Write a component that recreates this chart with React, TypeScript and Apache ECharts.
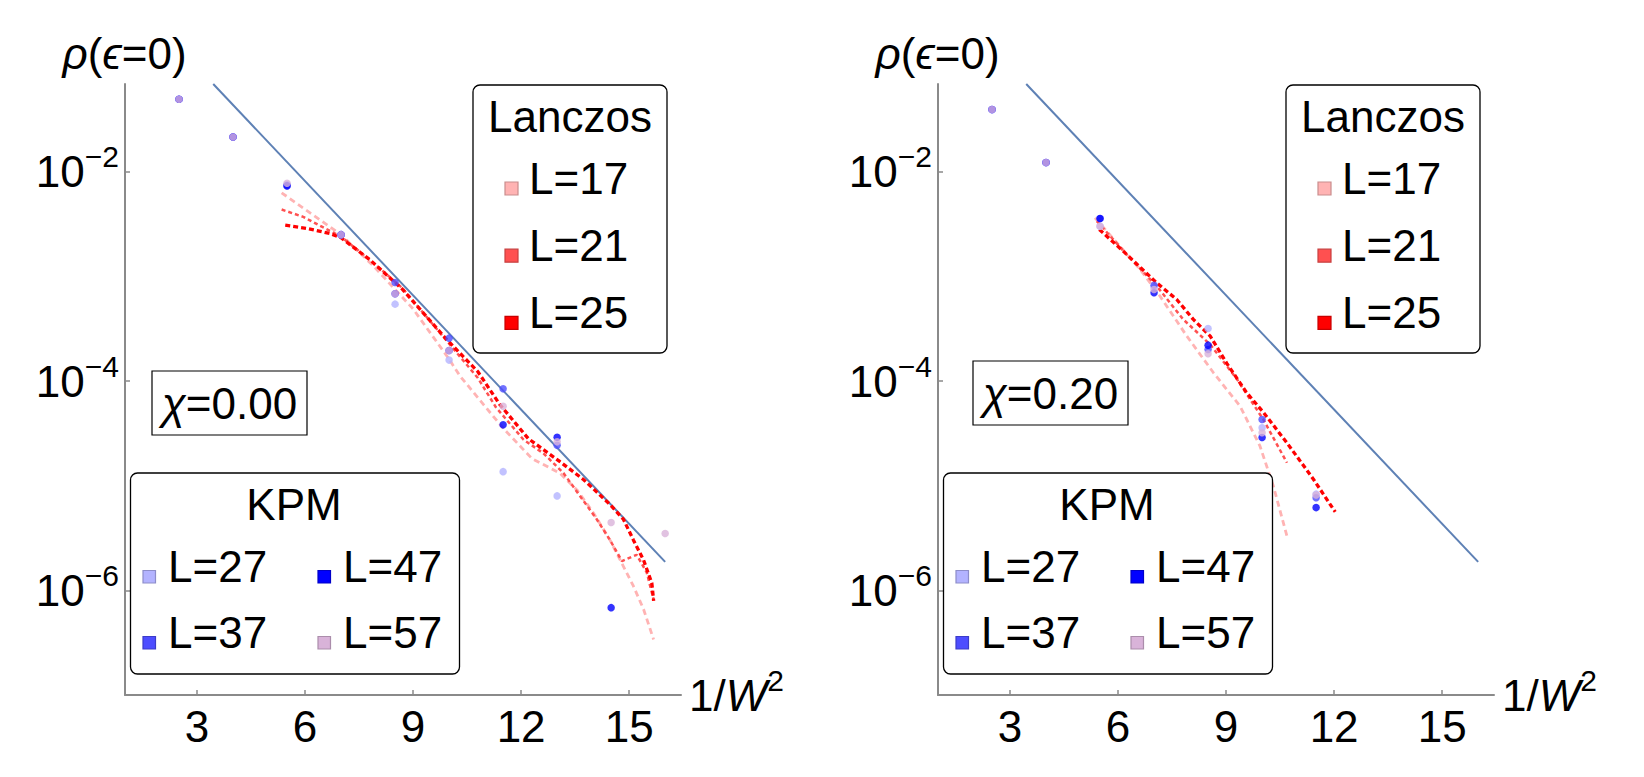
import React, { useEffect, useRef } from "react";
import * as echarts from "echarts";

// ---------- axes ----------
const xTickValues = [3, 6, 9, 12, 15];
const yTickExponents = [-6, -4, -2];
const panelChiLabels = ["0.00", "0.20"];

// ---------- reference line (log10 rho), same in both panels ----------
const refLineX = [3.45, 16.0];
const refLineLog = [-1.16, -5.728];

// ---------- chi = 0.00 : Lanczos (log10 rho) ----------
const lz17XChi0 = [5.35, 7.0, 7.9, 9.0, 10.0, 10.3, 11.5, 12.3, 13.08, 13.55, 14.01, 14.47, 14.84, 15.12, 15.4, 15.68];
const lz17LogChi0 = [-2.2, -2.6, -2.9, -3.31, -3.79, -3.95, -4.45, -4.74, -4.88, -5.04, -5.26, -5.52, -5.77, -5.96, -6.18, -6.47];
const lz21XChi0 = [5.35, 5.95, 7.0, 7.8, 8.7, 9.8, 10.8, 11.3, 12.07, 12.62, 13.18, 13.64, 14.1, 14.47, 14.8, 15.21, 15.49, 15.68];
const lz21LogChi0 = [-2.36, -2.43, -2.62, -2.84, -3.11, -3.56, -3.97, -4.25, -4.56, -4.69, -4.88, -5.1, -5.32, -5.52, -5.72, -5.66, -5.83, -6.09];
const lz25XChi0 = [5.45, 6.05, 6.7, 7.0, 7.8, 8.7, 9.9, 10.8, 11.4, 12.2, 13.08, 13.73, 14.47, 14.84, 15.12, 15.4, 15.63, 15.68];
const lz25LogChi0 = [-2.51, -2.54, -2.59, -2.63, -2.84, -3.12, -3.59, -3.91, -4.22, -4.55, -4.77, -4.94, -5.18, -5.32, -5.52, -5.71, -5.93, -6.1];

// ---------- chi = 0.00 : KPM (log10 rho) ----------
const kpmXChi0 = [2.5, 4, 5.5, 7, 8.5, 10, 11.5, 13, 14.5, 16];
const kpmL27Chi0 = [-1.306, -1.666, -2.12, -2.6, -3.264, -3.799, -4.865, -5.097, null, null];
const kpmL37Chi0 = [-1.306, -1.666, -2.13, -2.6, -3.057, -3.589, -4.073, -4.614, null, null];
const kpmL47Chi0 = [-1.306, -1.666, -2.134, -2.6, -3.165, -3.707, -4.418, -4.536, -6.165, null];
const kpmL57Chi0 = [-1.306, -1.666, -2.108, -2.6, -3.165, -3.707, -4.24, -4.58, -5.352, -5.457];

// ---------- chi = 0.20 : Lanczos (log10 rho) ----------
const lz17XChi2 = [5.36, 6.15, 6.61, 7.17, 7.91, 8.65, 9.39, 9.94, 10.31, 10.69];
const lz17LogChi2 = [-2.44, -2.75, -2.93, -3.19, -3.57, -3.92, -4.24, -4.62, -5.0, -5.48];
const lz21XChi2 = [5.41, 6.24, 7.07, 7.81, 8.56, 9.3, 10.04, 10.69];
const lz21LogChi2 = [-2.47, -2.79, -3.09, -3.41, -3.65, -3.98, -4.37, -4.78];
const lz25XChi2 = [5.48, 6.15, 7.07, 7.63, 8.09, 8.56, 9.02, 9.57, 10.04, 10.69, 11.43, 12.03];
const lz25LogChi2 = [-2.55, -2.76, -3.06, -3.22, -3.41, -3.57, -3.83, -4.11, -4.3, -4.59, -4.94, -5.25];

// ---------- chi = 0.20 : KPM (log10 rho) ----------
const kpmXChi2 = [2.5, 4, 5.5, 7, 8.5, 10, 11.5];
const kpmL27Chi2 = [-1.404, -1.911, -2.52, -3.1, -3.497, -4.445, -5.08];
const kpmL37Chi2 = [-1.404, -1.911, -2.446, -3.083, -3.697, -4.366, -5.114];
const kpmL47Chi2 = [-1.404, -1.911, -2.446, -3.156, -3.656, -4.538, -5.209];
const kpmL57Chi2 = [-1.404, -1.911, -2.52, -3.124, -3.739, -4.493, -5.089];

// ---------- legend names ----------
const lanczosNames = ["L=17", "L=21", "L=25"];
const kpmNames = ["L=27", "L=37", "L=47", "L=57"];

// ---------- styles ----------
const FONT = '"Liberation Sans", Arial, "DejaVu Sans", sans-serif';
const AXIS_COLOR = "#8a8a8a";
const REF_COLOR = "#5e81b5";
const lanczosColors = ["#ffb3b3", "#ff5050", "#ff0000"];
const lanczosBorders = ["#c98d8d", "#c84040", "#c80000"];
const lanczosWidths = [2.8, 2.5, 3.3];
const lanczosDash = [[6, 4], [4, 3], [5, 3]];
const kpmColors = ["#b3b3ff", "#4d4dff", "#0000ff", "#d9b3d9"];
const kpmBorders = ["#8d8dc9", "#3c3cc8", "#0000c8", "#ab8dab"];

const GRID_TOP = 84;
const GRID_H = 611;
const PANEL_LEFT = [125, 938];
const GRID_W = 556;
const DX = [0, 813];

function pairs(xs: number[], ys: (number | null)[]) {
  const out: number[][] = [];
  xs.forEach((x, i) => {
    const y = ys[i];
    if (y !== null && y !== undefined) out.push([x, y]);
  });
  return out;
}

const panels = [
  {
    lz: [
      pairs(lz17XChi0, lz17LogChi0),
      pairs(lz21XChi0, lz21LogChi0),
      pairs(lz25XChi0, lz25LogChi0),
    ],
    kpm: [
      pairs(kpmXChi0, kpmL27Chi0),
      pairs(kpmXChi0, kpmL37Chi0),
      pairs(kpmXChi0, kpmL47Chi0),
      pairs(kpmXChi0, kpmL57Chi0),
    ],
    chiBox: { x: 152, y: 371, w: 155, h: 64 },
  },
  {
    lz: [
      pairs(lz17XChi2, lz17LogChi2),
      pairs(lz21XChi2, lz21LogChi2),
      pairs(lz25XChi2, lz25LogChi2),
    ],
    kpm: [
      pairs(kpmXChi2, kpmL27Chi2),
      pairs(kpmXChi2, kpmL37Chi2),
      pairs(kpmXChi2, kpmL47Chi2),
      pairs(kpmXChi2, kpmL57Chi2),
    ],
    chiBox: { x: 973, y: 361, w: 155, h: 64 },
  },
];

const baseRich = {
  n: { fontSize: 44, fontFamily: FONT, color: "#000", lineHeight: 60 },
  i: { fontSize: 44, fontFamily: FONT, color: "#000", fontStyle: "italic", lineHeight: 60 },
  s: { fontSize: 30, fontFamily: FONT, color: "#000", lineHeight: 32, verticalAlign: "top" },
};

function txt(text: string, x: number, y: number, align: string) {
  return {
    type: "text",
    x,
    y,
    z: 102,
    style: {
      text,
      rich: baseRich,
      fontSize: 44,
      fontFamily: FONT,
      fill: "#000",
      align,
      verticalAlign: "middle",
      textAlign: align,
      textVerticalAlign: "middle",
    },
  };
}

function panelGraphics(p: number) {
  const dx = DX[p];
  const els: any[] = [];
  // y-axis title
  els.push(txt("{i|ρ}{n|(}{i|ϵ}{n|=0)}", 124.5 + dx, 53.5, "center"));
  // Lanczos legend
  els.push({
    type: "rect",
    z: 100,
    shape: { x: 473 + dx, y: 85, width: 194, height: 268, r: 7 },
    style: { fill: "#fff", stroke: "#000", lineWidth: 1.3 },
  });
  els.push(txt("{n|Lanczos}", 570 + dx, 116, "center"));
  lanczosNames.forEach((name, i) => {
    const cy = 178 + i * 67.2;
    els.push({
      type: "rect",
      z: 101,
      shape: { x: 505 + dx, y: cy + 4, width: 13, height: 13 },
      style: { fill: lanczosColors[i], stroke: lanczosBorders[i], lineWidth: 1.2 },
    });
    els.push(txt(`{n|${name}}`, 529 + dx, cy, "left"));
  });
  // KPM legend
  els.push({
    type: "rect",
    z: 100,
    shape: { x: 130.5 + dx, y: 473, width: 329, height: 201, r: 7 },
    style: { fill: "#fff", stroke: "#000", lineWidth: 1.3 },
  });
  els.push(txt("{n|KPM}", 294 + dx, 504, "center"));
  const order = [0, 2, 1, 3]; // L=27, L=47 / L=37, L=57
  order.forEach((k, j) => {
    const col = j % 2;
    const row = Math.floor(j / 2);
    const cy = 566.5 + row * 66;
    const mx = (col === 0 ? 143 : 318) + dx;
    els.push({
      type: "rect",
      z: 101,
      shape: { x: mx, y: cy + 4, width: 12.5, height: 12.5 },
      style: { fill: kpmColors[k], stroke: kpmBorders[k], lineWidth: 1.2 },
    });
    els.push(txt(`{n|${kpmNames[k]}}`, mx + 25, cy, "left"));
  });
  // chi box
  const cb = panels[p].chiBox;
  els.push({
    type: "rect",
    z: 100,
    shape: { x: cb.x, y: cb.y, width: cb.w, height: cb.h },
    style: { fill: "#fff", stroke: "#000", lineWidth: 1.2 },
  });
  els.push(txt(`{i|χ}{n|=${panelChiLabels[p]}}`, cb.x + cb.w / 2, cb.y + cb.h / 2, "center"));
  return els;
}

function buildOption() {
  const grid = PANEL_LEFT.map((left) => ({
    left,
    top: GRID_TOP,
    width: GRID_W,
    height: GRID_H,
    containLabel: false,
  }));
  const xAxis = [0, 1].map((g) => ({
    type: "value",
    gridIndex: g,
    min: 1,
    max: 16.44,
    name: "{n|1/}{i|W}{s|2}",
    nameLocation: "end",
    nameGap: 8,
    nameTextStyle: { rich: baseRich, fontSize: 44, fontFamily: FONT, color: "#000" },
    axisLine: { onZero: false, lineStyle: { color: AXIS_COLOR, width: 2 } },
    axisTick: {
      inside: true,
      length: 5,
      customValues: xTickValues,
      lineStyle: { color: AXIS_COLOR, width: 1.5 },
    },
    axisLabel: {
      customValues: xTickValues,
      margin: 9,
      fontSize: 44,
      fontFamily: FONT,
      color: "#000",
    },
    splitLine: { show: false },
  }));
  const yAxis = [0, 1].map((g) => ({
    type: "value",
    gridIndex: g,
    min: -7,
    max: -1.16,
    axisLine: { onZero: false, lineStyle: { color: AXIS_COLOR, width: 2 } },
    axisTick: {
      inside: true,
      length: 5,
      customValues: yTickExponents,
      lineStyle: { color: AXIS_COLOR, width: 1.5 },
    },
    axisLabel: {
      customValues: yTickExponents,
      margin: 6,
      formatter: (v: number) => `{n|10}{s|−${Math.abs(Math.round(v))}}`,
      rich: baseRich,
    },
    splitLine: { show: false },
  }));

  const series: any[] = [];
  panels.forEach((p, g) => {
    series.push({
      type: "line",
      name: "fit",
      xAxisIndex: g,
      yAxisIndex: g,
      data: pairs(refLineX, refLineLog),
      symbol: "none",
      lineStyle: { color: REF_COLOR, width: 2 },
      clip: true,
      z: 2,
    });
    p.lz.forEach((d, i) => {
      series.push({
        type: "line",
        name: lanczosNames[i],
        xAxisIndex: g,
        yAxisIndex: g,
        data: d,
        symbol: "none",
        lineStyle: { color: lanczosColors[i], width: lanczosWidths[i], type: lanczosDash[i] },
        clip: true,
        z: 3,
      });
    });
    p.kpm.forEach((d, i) => {
      series.push({
        type: "scatter",
        name: kpmNames[i],
        xAxisIndex: g,
        yAxisIndex: g,
        data: d,
        symbol: "circle",
        symbolSize: 7.5,
        itemStyle: { color: kpmColors[i] },
        z: 4,
      });
    });
  });

  return {
    animation: false,
    backgroundColor: "#fff",
    grid,
    xAxis,
    yAxis,
    series,
    graphic: { elements: [...panelGraphics(0), ...panelGraphics(1)] },
  };
}

export default function App() {
  const ref = useRef<HTMLDivElement>(null);
  useEffect(() => {
    document.body.style.margin = "0";
    const chart = echarts.init(ref.current as HTMLDivElement, null, { renderer: "svg" });
    chart.setOption(buildOption() as any);
    return () => chart.dispose();
  }, []);
  return <div ref={ref} style={{ width: 1644, height: 777 }} />;
}
